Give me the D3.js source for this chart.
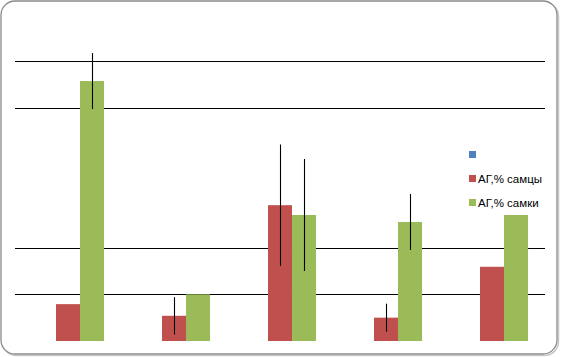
<!DOCTYPE html>
<html>
<head>
<meta charset="utf-8">
<script src="https://cdn.jsdelivr.net/npm/d3@7"></script>
<style>
  body { margin: 0; background: #fff; }
  svg { display: block; font-family: "Liberation Sans", Arial, sans-serif; }
</style>
</head>
<body>
<div id="chart"></div>
<script>
// Data
const categories = ['1', '2', '3', '4', '5']
const seriesNames = ['', 'АГ,% самцы', 'АГ,% самки']
const blueVals = [0, 0, 0, 0, 0]
const maleVals = [7.9, 5.4, 29.1, 5.0, 15.9]
const femaleVals = [55.7, 10, 27.0, 25.5, 27.0]
const maleErr = [null, 4, 13, 3, null]
const femaleErr = [6, null, 12, 6, null]
const gridValues = [10, 20, 50, 60]

const colors = ['#4F81BD', '#C0504D', '#9BBB59']
const seriesVals = [blueVals, maleVals, femaleVals]
const seriesErr = [null, maleErr, femaleErr]

const W = 561, H = 357

const svg = d3.select('#chart')
    .append('svg')
    .attr('width', W)
    .attr('height', H)

// Frame with shadow
svg.append('rect')
    .attr('x', 2.5).attr('y', 2.5)
    .attr('width', 556).attr('height', 353)
    .attr('rx', 14)
    .attr('fill', 'none')
    .attr('stroke', '#c8c8c8')
    .attr('stroke-width', 1.5)

svg.append('rect')
    .attr('x', 1).attr('y', 1)
    .attr('width', 556).attr('height', 353)
    .attr('rx', 14)
    .attr('fill', '#fff')
    .attr('stroke', '#8a8a8a')
    .attr('stroke-width', 1.3)

// Scales
const x0 = d3.scaleBand()
    .domain(categories)
    .range([15, 545])
    .paddingInner(0.32)
    .paddingOuter(0.16)

const x1 = d3.scaleBand()
    .domain(d3.range(seriesNames.length))
    .range([0, x0.bandwidth()])

const y = d3.scaleLinear()
    .domain([0, 70])
    .range([341, 14.3])

// Gridlines
svg.append('g')
    .selectAll('line')
    .data(gridValues)
    .join('line')
    .attr('x1', 15)
    .attr('x2', 545)
    .attr('y1', d => Math.round(y(d)) + 0.5)
    .attr('y2', d => Math.round(y(d)) + 0.5)
    .attr('stroke', '#000')
    .attr('stroke-width', 1.1)

// Bars
const rows = []
categories.forEach((c, i) => {
    seriesVals.forEach((vals, s) => {
        rows.push({cat: c, s: s, v: vals[i], e: seriesErr[s] ? seriesErr[s][i] : null})
    })
})

svg.append('g')
    .selectAll('rect')
    .data(rows)
    .join('rect')
    .attr('x', d => x0(d.cat) + x1(d.s))
    .attr('y', d => y(d.v))
    .attr('width', x1.bandwidth())
    .attr('height', d => y(0) - y(d.v))
    .attr('fill', d => colors[d.s])

// Error bars
svg.append('g')
    .selectAll('line')
    .data(rows.filter(d => d.e != null))
    .join('line')
    .attr('x1', d => Math.round(x0(d.cat) + x1(d.s) + x1.bandwidth() / 2) + 0.5)
    .attr('x2', d => Math.round(x0(d.cat) + x1(d.s) + x1.bandwidth() / 2) + 0.5)
    .attr('y1', d => y(d.v + d.e))
    .attr('y2', d => y(d.v - d.e))
    .attr('stroke', '#000')
    .attr('stroke-width', 1.1)

// Legend
const legend = svg.append('g')
    .attr('transform', 'translate(469, 151)')

const li = legend.selectAll('g')
    .data(seriesNames)
    .join('g')
    .attr('transform', (d, i) => `translate(0, ${i * 24})`)

li.append('rect')
    .attr('width', 7)
    .attr('height', 7)
    .attr('fill', (d, i) => colors[i])

li.append('text')
    .attr('x', 9)
    .attr('y', 8)
    .attr('font-size', '11.5px')
    .attr('fill', '#000')
    .text(d => d)
</script>
</body>
</html>
